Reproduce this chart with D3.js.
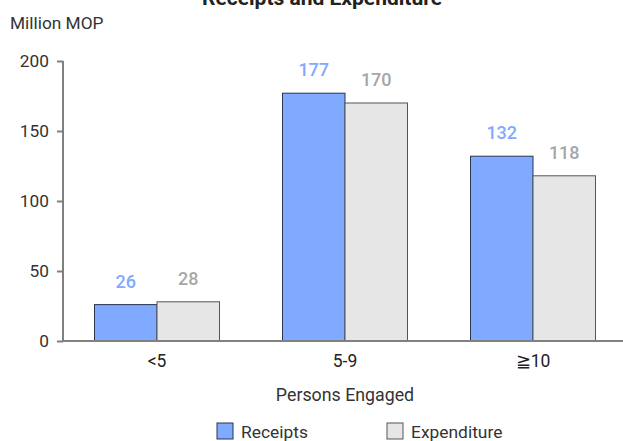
<!DOCTYPE html>
<html><head><meta charset="utf-8">
<script src="https://cdn.jsdelivr.net/npm/d3@7/dist/d3.min.js"></script>
<style>body{margin:0;background:#fff}svg{display:block}text{font-family:Roboto,"Liberation Sans",sans-serif}</style>
</head><body><svg id="c" width="623" height="441"></svg>
<script>
const categories = ["<5", "5-9", "≧10"];
const receipts = [26, 177, 132];
const expenditure = [28, 170, 118];
const yTicks = [0, 50, 100, 150, 200];
const seriesNames = ["Receipts", "Expenditure"];

const svg = d3.select("#c");
const x = d3.scaleBand().domain(categories).range([63, 627]);
const y = d3.scaleLinear().domain([0, 200]).range([341, 61]);
const inner = d3.scaleBand().domain(seriesNames).range([0, 125]);
const colors = {Receipts: "#80AAFF", Expenditure: "#E6E6E6"};
const strokes = {Receipts: "#2a3550", Expenditure: "#555"};
const labelColors = {Receipts: "#80AAFF", Expenditure: "#A6A6A6"};
const txt = "#333";

svg.append("text").attr("x", 322).attr("y", 5).attr("text-anchor", "middle")
  .attr("font-size", 21).attr("font-weight", "bold").attr("fill", "#222").text("Receipts and Expenditure");
svg.append("text").attr("x", 10).attr("y", 29).attr("font-size", 17.3).attr("fill", txt).text("Million MOP");

const data = [receipts, expenditure];
seriesNames.forEach((s, si) => {
  const g = svg.append("g");
  categories.forEach((c, ci) => {
    const v = data[si][ci];
    const bx = x(c) + x.bandwidth() / 2 - 62.5 + inner(s);
    g.append("rect").attr("x", bx).attr("y", y(v)).attr("width", inner.bandwidth())
      .attr("height", y(0) - y(v)).attr("fill", colors[s]).attr("stroke", strokes[s]).attr("stroke-width", 1);
    g.append("text").attr("x", bx + inner.bandwidth() / 2).attr("y", y(v) - 17)
      .attr("text-anchor", "middle").attr("font-size", 18).attr("font-weight", 500)
      .attr("fill", labelColors[s]).text(v);
  });
});

const ya = svg.append("g").attr("transform", "translate(63,0)")
  .call(d3.axisLeft(y).tickValues(yTicks).tickSize(6).tickPadding(8));
ya.selectAll("path,line").attr("stroke", "#808080").attr("stroke-width", 2);
ya.select("path").attr("d", "M0," + y(200) + "V" + y(0));
ya.selectAll("text").attr("font-size", 17.3).attr("fill", txt).style("font-family", 'Roboto,sans-serif');

const xa = svg.append("g").attr("transform", "translate(0," + y(0) + ")")
  .call(d3.axisBottom(x).tickSize(0).tickPadding(14));
xa.select("path").attr("stroke", "#808080").attr("stroke-width", 2).attr("d", "M62,0H623");
xa.selectAll("text").attr("font-size", 17.5).attr("fill", "#222").style("font-family", 'Roboto,sans-serif');

svg.append("text").attr("x", 345).attr("y", 401).attr("text-anchor", "middle")
  .attr("font-size", 17.8).attr("fill", txt).text("Persons Engaged");

const legendX = [217, 387];
seriesNames.forEach((s, i) => {
  svg.append("rect").attr("x", legendX[i]).attr("y", 423).attr("width", 16).attr("height", 16)
    .attr("fill", colors[s]).attr("stroke", strokes[s]);
  svg.append("text").attr("x", legendX[i] + 24).attr("y", 438).attr("font-size", 17.4).attr("fill", txt).text(s);
});
</script></body></html>
